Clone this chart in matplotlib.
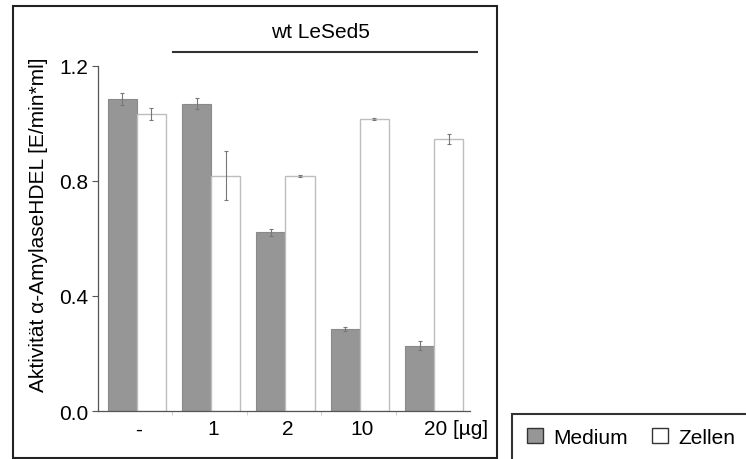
import numpy as np
import matplotlib
matplotlib.use("Agg")
from matplotlib import pyplot as plt
from matplotlib.patches import Rectangle, Patch

plt.rcParams["font.family"] = ["Liberation Sans", "DejaVu Sans"]

# data
categories = ["-", "1", "2", "10", "20"]
medium = [1.085, 1.068, 0.621, 0.285, 0.227]
medium_err = [0.020, 0.019, 0.012, 0.008, 0.015]
zellen = [1.033, 0.818, 0.818, 1.016, 0.946]
zellen_err = [0.020, 0.085, 0.003, 0.004, 0.019]
y_ticks = [0.0, 0.4, 0.8, 1.2]

FS = 15
W, H = 746, 460
fig = plt.figure(figsize=(W / 100, H / 100), dpi=100)
ax = fig.add_axes([98 / W, 1 - 412 / H, (470 - 98) / W, (412 - 67) / H])

x = np.arange(len(categories))
bw = 0.39
center = x + 0.52
err_kw = dict(ecolor="#777777", elinewidth=0.8, capsize=1.5, capthick=0.8)
ax.bar(center - bw / 2, medium, bw, yerr=medium_err, color="#969696",
       edgecolor="#8a8a8a", linewidth=0.8, error_kw=err_kw, zorder=2)
ax.bar(center + bw / 2, zellen, bw, yerr=zellen_err, color="white",
       edgecolor="#bdbdbd", linewidth=1.0, error_kw=err_kw, zorder=2)

ax.set_xlim(0, len(categories))
ax.set_ylim(0, 1.2)
ax.set_yticks(y_ticks)
ax.set_yticklabels([f"{v:.1f}" for v in y_ticks], fontsize=FS)
ax.tick_params(axis="y", length=4, width=0.8, color="#555555", pad=3)

# boundary ticks (no labels) and centered labels
ax.set_xticks(x[1:])
ax.set_xticklabels([])
ax.tick_params(axis="x", which="major", length=3, width=0.6, color="#c8c8c8")
ax.set_xticks(x + 0.55, minor=True)
ax.set_xticklabels(categories[:-1] + [""], minor=True, fontsize=FS)
ax.tick_params(axis="x", which="minor", length=0, pad=6)
ax.text(x[-1] + 0.38, -0.028, categories[-1] + " [µg]", ha="left", va="top",
        fontsize=FS, transform=ax.transData)

for side in ["top", "right"]:
    ax.spines[side].set_visible(False)
ax.spines["left"].set_color("#555555")
ax.spines["bottom"].set_color("#555555")
ax.spines["left"].set_linewidth(0.9)
ax.spines["bottom"].set_linewidth(0.9)

ax.set_ylabel("Aktivität α-AmylaseHDEL [E/min*ml]", fontsize=FS)
ax.yaxis.set_label_coords(-0.135, 0.543)

# group annotation above the plot
fig.add_artist(plt.Line2D([173 / W, 477 / W], [1 - 53 / H, 1 - 53 / H],
                          color="#333333", linewidth=1.5))
fig.text(320 / W, 1 - 33 / H, "wt LeSed5", ha="center", va="center", fontsize=FS)

# outer frame around the chart
fig.add_artist(Rectangle((13 / W, 1 / H), (497 - 13) / W, (459 - 7) / H,
                         transform=fig.transFigure, fill=False,
                         edgecolor="#222222", linewidth=1.5))

# legend box (runs off the page edge like in the original)
fig.add_artist(Rectangle((512 / W, -0.05), 0.5, (460 - 415) / H + 0.05,
                         transform=fig.transFigure, fill=False,
                         edgecolor="#333333", linewidth=1.5))
handles = [Patch(facecolor="#969696", edgecolor="#333333", label="Medium"),
           Patch(facecolor="white", edgecolor="#333333", label="Zellen")]
fig.legend(handles=handles, ncol=2, frameon=False, fontsize=FS,
           loc="center left", bbox_to_anchor=(517 / W, 1 - 438 / H),
           handlelength=0.75, handleheight=0.75, handletextpad=0.5,
           columnspacing=1.15, borderpad=0)

fig.savefig("out.png", dpi=100)
plt.close(fig)
